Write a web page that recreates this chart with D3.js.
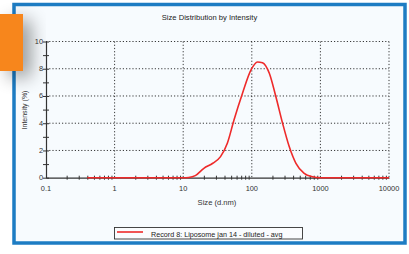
<!DOCTYPE html>
<html lang="en">
<head>
    <meta charset="UTF-8">
    <title>Size Distribution by Intensity</title>
    <style>
        body { margin: 0; background: #ffffff; }
        svg { display: block; font-family: "Liberation Sans", Arial, sans-serif; }
        .grid line { stroke: #222; stroke-dasharray: 1.2, 2; stroke-width: 0.9; }
        .tick-label { font-size: 7.4px; fill: #333; }
    </style>
</head>
<body>
    <svg id="chart" width="409" height="254"></svg>

    <script src="https://d3js.org/d3.v7.min.js"></script>
    <script>
        // size (d.nm) and intensity (%)
        const sizes = [0.4, 1, 10, 12, 15, 20, 27, 35, 44, 55, 73, 97, 121, 143, 180, 224, 281, 351, 440, 580, 767, 1000, 10000];
        const intensity = [0, 0, 0, 0.02, 0.15, 0.69, 1.06, 1.55, 2.53, 4.24, 6.19, 7.9, 8.5, 8.44, 7.67, 5.96, 4.0, 2.29, 1.06, 0.32, 0.07, 0, 0];

        const xTicks = [0.1, 1, 10, 100, 1000, 10000];
        const xTickLabels = ["0.1", "1", "10", "100", "1000", "10000"];
        const yTicks = [0, 2, 4, 6, 8, 10];
        const yMinor = [1, 3, 5, 7, 9];

        const title = "Size Distribution by Intensity";
        const xTitle = "Size (d.nm)";
        const yTitle = "Intensity (%)";
        const seriesName = "Record 8: Liposome jan 14 - diluted - avg";

        const svg = d3.select("#chart");

        // frame with blue border
        svg.append("rect")
            .attr("x", 14).attr("y", 4.5)
            .attr("width", 391).attr("height", 238.5)
            .attr("fill", "#f7fbfe")
            .attr("stroke", "#1d7cc3")
            .attr("stroke-width", 3.5);

        // orange tab with soft shadow
        const defs = svg.append("defs");
        const f = defs.append("filter").attr("id", "shadow")
            .attr("x", "-50%").attr("y", "-50%").attr("width", "250%").attr("height", "250%");
        f.append("feGaussianBlur").attr("in", "SourceAlpha").attr("stdDeviation", 9);
        f.append("feOffset").attr("dx", 8).attr("dy", 6).attr("result", "b");
        f.append("feComponentTransfer").append("feFuncA").attr("type", "linear").attr("slope", 0.4);
        const m = f.append("feMerge");
        m.append("feMergeNode");
        m.append("feMergeNode").attr("in", "SourceGraphic");

        svg.append("rect")
            .attr("x", 0).attr("y", 14)
            .attr("width", 23).attr("height", 57)
            .attr("fill", "#f7861f")
            .attr("filter", "url(#shadow)");

        const x = d3.scaleLog().domain([0.1, 10000]).range([46, 389]);
        const y = d3.scaleLinear().domain([0, 10]).range([177.7, 41.5]);

        // dotted grid
        const grid = svg.append("g").attr("class", "grid");
        grid.selectAll(".v").data(xTicks.slice(1)).enter().append("line")
            .attr("x1", d => x(d)).attr("x2", d => x(d))
            .attr("y1", y(10)).attr("y2", y(0));
        grid.selectAll(".h").data(yTicks.slice(1)).enter().append("line")
            .attr("x1", x(0.1)).attr("x2", x(10000))
            .attr("y1", d => y(d)).attr("y2", d => y(d));

        // x axis: solid line, major and minor ticks
        const xMinor = [];
        for (let p = -1; p < 4; p++) {
            for (let k = 2; k <= 9; k++) xMinor.push(k * Math.pow(10, p));
        }
        const xAxis = svg.append("g").attr("transform", `translate(0,${y(0)})`)
            .call(d3.axisBottom(x).tickValues(xMinor).tickSize(2).tickFormat(""));
        xAxis.select(".domain").remove();
        xAxis.selectAll(".tick line").attr("y1", -2).attr("stroke", "#333");

        svg.append("g").attr("transform", `translate(0,${y(0)})`)
            .call(d3.axisBottom(x).tickValues(xTicks).tickSize(0).tickFormat("").tickSizeOuter(0))
            .select(".domain").attr("stroke", "#333").attr("stroke-width", 1.2);

        svg.selectAll(".xlab").data(xTicks).enter().append("text")
            .attr("class", "tick-label")
            .attr("x", d => x(d)).attr("y", 191)
            .attr("text-anchor", "middle")
            .text((d, i) => xTickLabels[i]);

        // y axis
        const yAxis = svg.append("g").attr("transform", `translate(${x(0.1)},0)`)
            .call(d3.axisLeft(y).tickValues(yTicks).tickSize(3).tickFormat("").tickSizeOuter(0));
        yAxis.select(".domain").attr("stroke", "#333").attr("stroke-width", 1.2);
        yAxis.selectAll(".tick line").attr("x2", -3).attr("x1", 3).attr("stroke", "#333");

        const yAxisMinor = svg.append("g").attr("transform", `translate(${x(0.1)},0)`)
            .call(d3.axisLeft(y).tickValues(yMinor).tickSize(3).tickFormat(""));
        yAxisMinor.select(".domain").remove();
        yAxisMinor.selectAll(".tick line").attr("x1", 3).attr("stroke", "#333");

        svg.selectAll(".ylab").data(yTicks).enter().append("text")
            .attr("class", "tick-label")
            .attr("x", 43).attr("y", d => y(d) + 2.5)
            .attr("text-anchor", "end")
            .text(d => d);

        // curve
        const pts = sizes.map((s, i) => [s, intensity[i]]);
        svg.append("path")
            .datum(pts)
            .attr("fill", "none")
            .attr("stroke", "#ee2a2a")
            .attr("stroke-width", 1.6)
            .attr("d", d3.line().x(d => x(d[0])).y(d => y(d[1])).curve(d3.curveMonotoneX));

        // titles
        svg.append("text").attr("x", 209.5).attr("y", 19.5)
            .attr("text-anchor", "middle").attr("font-size", 7.6).attr("fill", "#222")
            .text(title);
        svg.append("text").attr("x", 217).attr("y", 204.5)
            .attr("text-anchor", "middle").attr("font-size", 7.6).attr("fill", "#333")
            .text(xTitle);
        svg.append("text")
            .attr("transform", "translate(27,110) rotate(-90)")
            .attr("text-anchor", "middle").attr("font-size", 7).attr("fill", "#333")
            .text(yTitle);

        // legend
        svg.append("rect")
            .attr("x", 114.5).attr("y", 227.5)
            .attr("width", 188).attr("height", 11.5)
            .attr("fill", "#fafcfe").attr("stroke", "#333").attr("stroke-width", 0.9);
        svg.append("line")
            .attr("x1", 117).attr("x2", 143).attr("y1", 232).attr("y2", 232)
            .attr("stroke", "#ee2a2a").attr("stroke-width", 1.6);
        svg.append("text").attr("x", 151).attr("y", 236.5)
            .attr("font-size", 7.2).attr("fill", "#222")
            .text(seriesName);
    </script>
</body>
</html>
